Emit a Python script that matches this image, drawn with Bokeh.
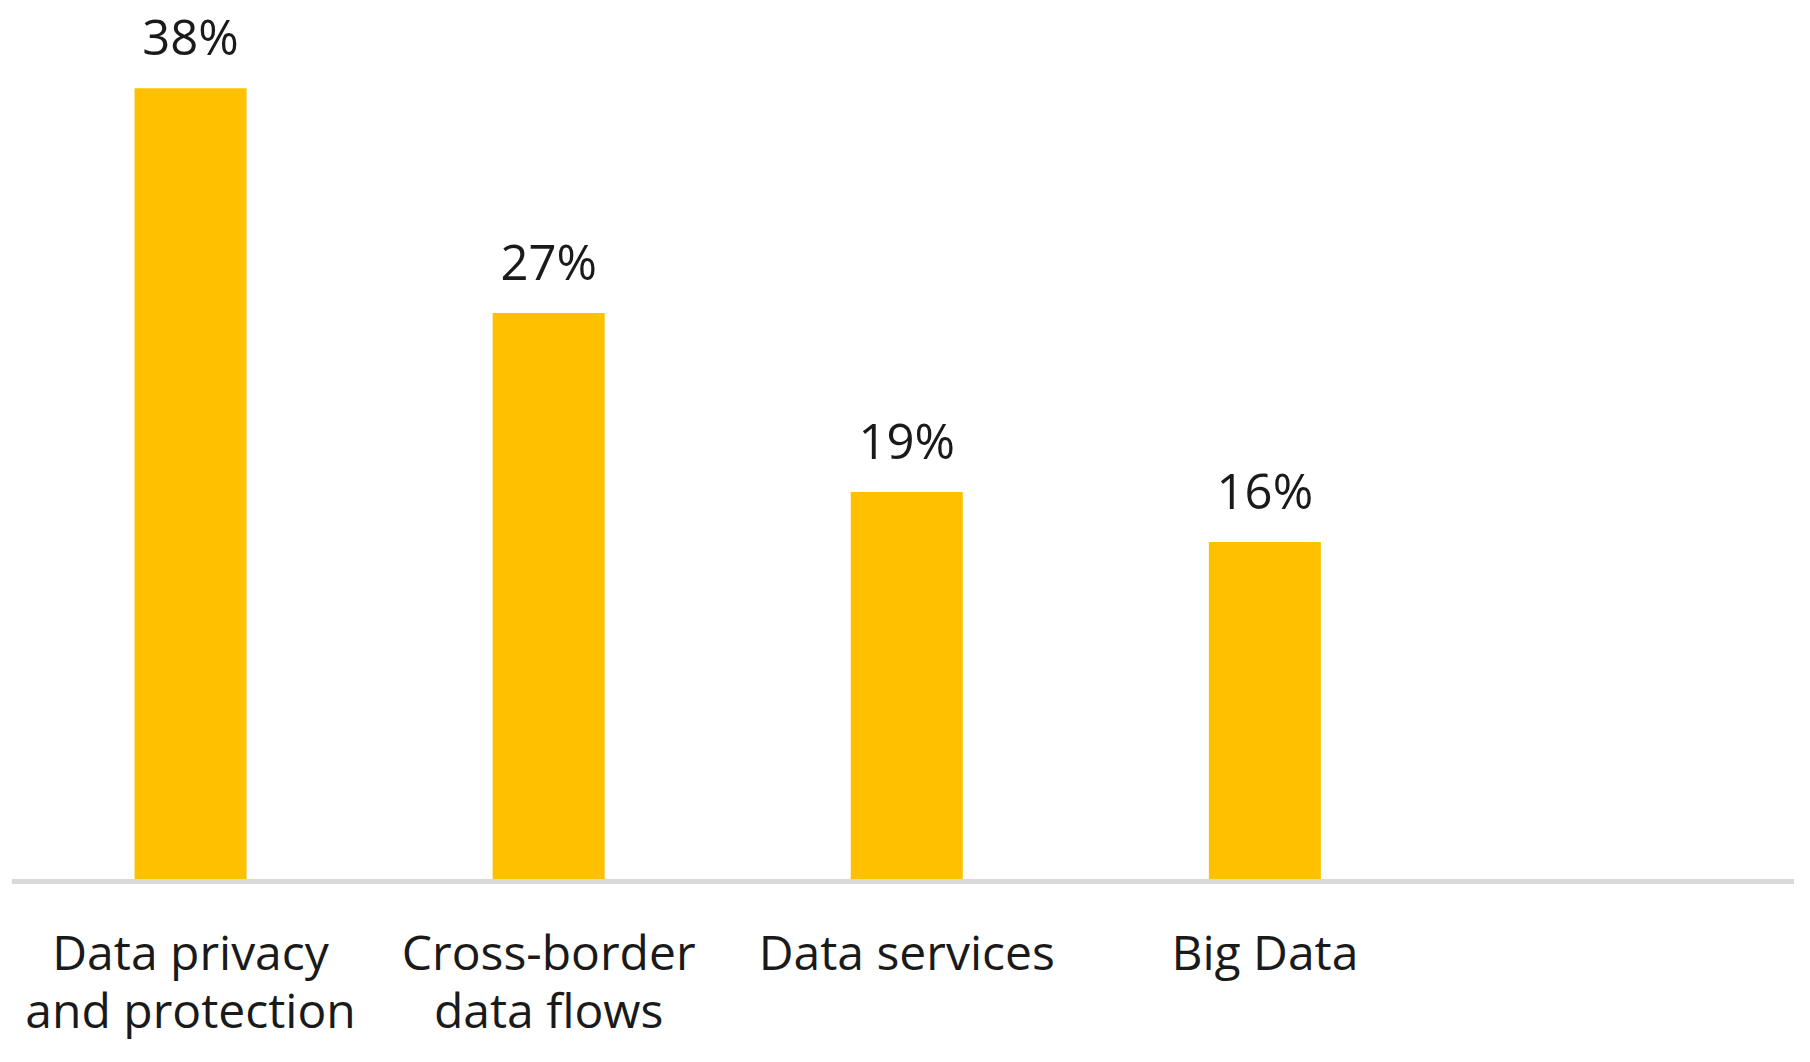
from bokeh.plotting import figure
from bokeh.models import Range1d, Span, ColumnDataSource
from bokeh.core.properties import value
from bokeh.embed import file_html
from bokeh.resources import INLINE

# ---- data ----
categories = ["Data privacy\nand protection", "Cross-border\ndata flows", "Data services", "Big Data"]
shares = [38.0, 27.2, 18.6, 16.2]
value_labels = ["38%", "27%", "19%", "16%"]

# ---- layout (reference is 1810x1062; figure must fit a window with 8px margins) ----
W, H = 1794, 1046
sx, sy = W / 1810, H / 1062
slot_px = 361.3 * sx
left_border = round(11 * sx)
base_px = 892 * sy                 # baseline position from the top of the figure
k = (892 - 89) * sy / 38.0         # pixels per percentage point
text_shift = -20                   # empirical correction of the rendered text baseline

x_end = (W - left_border) / slot_px
y_end = base_px / k
y_start = -(H - base_px) / k

xs = [i + 0.5 for i in range(len(categories))]
line1 = [c.split("\n")[0] for c in categories]
line2 = [c.split("\n")[1] if "\n" in c else "" for c in categories]

src = ColumnDataSource(dict(x=xs, top=shares, lab=value_labels, l1=line1, l2=line2))

p = figure(width=W, height=H, output_backend="svg", toolbar_location=None,
           x_range=Range1d(0, x_end), y_range=Range1d(y_start, y_end),
           x_axis_location=None, y_axis_location=None,
           min_border=0, min_border_left=left_border)
p.grid.visible = False
p.outline_line_color = None
p.background_fill_color = "white"
p.border_fill_color = "white"

p.vbar(x="x", top="top", bottom=0, width=113 / 361.3, source=src,
       fill_color="#FFC000", line_color=None)

axis_line = Span(location=-2.5 * sy / k, dimension="width", line_color="#d9d9d9", line_width=5)
p.add_layout(axis_line)

font = value("Open Sans")
p.text(x="x", y="top", text="lab", source=src, text_align="center",
       text_baseline="alphabetic", y_offset=-41 * sy + text_shift + 8, text_font=font,
       text_font_size="49px", text_color="#1a1a1a")

p.text(x="x", y=0, text="l1", source=src, text_align="center",
       text_baseline="alphabetic", y_offset=92 + text_shift, text_font=font,
       text_font_size="48px", text_color="#1a1a1a")
p.text(x="x", y=0, text="l2", source=src, text_align="center",
       text_baseline="alphabetic", y_offset=150 + text_shift, text_font=font,
       text_font_size="48px", text_color="#1a1a1a")

open("out.html", "w").write(file_html(p, INLINE))
